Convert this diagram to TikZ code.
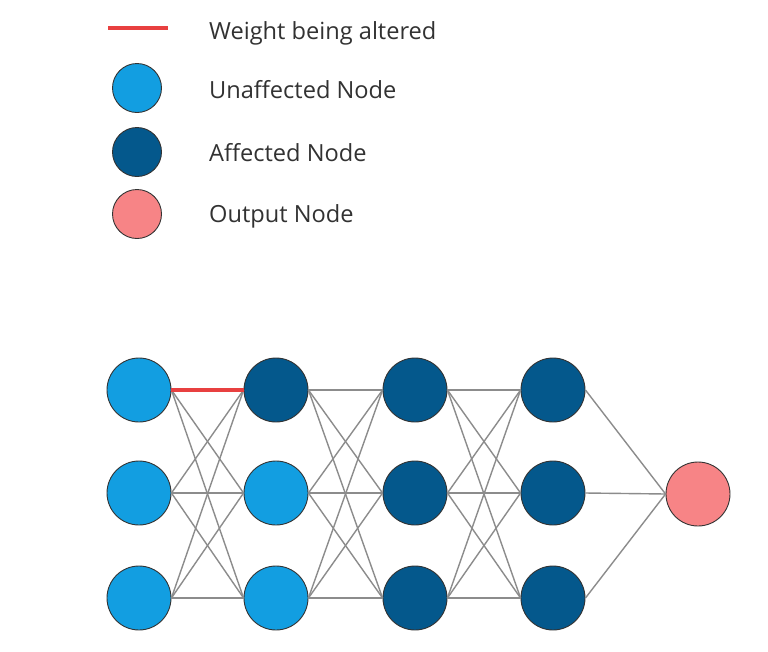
\documentclass[tikz,border=0pt]{standalone}
\usepackage{fontspec}
\setmainfont{Open Sans}
\usepackage{xcolor}
\usetikzlibrary{positioning}
\definecolor{ink}{RGB}{50,50,50}
\definecolor{lightnode}{RGB}{18,158,225}
\definecolor{darknode}{RGB}{4,88,140}
\definecolor{outpink}{RGB}{247,132,134}
\definecolor{altred}{RGB}{232,64,64}
\definecolor{wgray}{RGB}{140,140,140}
\tikzset{
  unaff/.style={circle, draw=black!80, fill=lightnode, minimum size=64pt, inner sep=0pt, line width=0.9pt},
  aff/.style={circle, draw=black!80, fill=darknode, minimum size=64pt, inner sep=0pt, line width=0.9pt},
  outn/.style={circle, draw=black!80, fill=outpink, minimum size=64pt, inner sep=0pt, line width=0.9pt},
  legdot/.style={minimum size=49pt},
  legtext/.style={anchor=west, font=\fontsize{23.6}{27}\selectfont, text=ink, inner sep=0pt},
  weight/.style={line width=1.4pt, draw=wgray},
  altered/.style={line width=4.5pt, draw=altred},
}
\begin{document}
\begin{tikzpicture}[x=1pt, y=-1pt]
  \useasboundingbox[fill=white] (0,0) rectangle (768,651);
  % legend
  \coordinate (la) at (108,28);
  \coordinate (lb) at (168,28);
  \draw[altered, line width=3.5pt] (la) -- (lb);
  \node[legtext] (t1) at (209,33) {Weight being altered};
  \node[unaff, legdot] (l1) at (137,88) {};
  \node[legtext] (t2) at (209,90) {Unaffected Node};
  \node[aff, legdot] (l2) at (137,152) {};
  \node[legtext] (t3) at (209,153) {Affected Node};
  \node[outn, legdot] (l3) at (137,214) {};
  \node[legtext] (t4) at (209,216) {Output Node};
  % network
  \node[unaff] (a1) at (139,390) {};
  \node[unaff] (a2) at (139,493) {};
  \node[unaff] (a3) at (139,598) {};
  \node[aff]   (b1) at (276,390) {};
  \node[unaff] (b2) at (276,493) {};
  \node[unaff] (b3) at (276,598) {};
  \node[aff]   (c1) at (415,390) {};
  \node[aff]   (c2) at (415,493) {};
  \node[aff]   (c3) at (415,598) {};
  \node[aff]   (d1) at (553,390) {};
  \node[aff]   (d2) at (553,493) {};
  \node[aff]   (d3) at (553,598) {};
  \node[outn]  (out) at (698,494) {};
  % weights
  \foreach \i in {1,2,3} {
    \foreach \j in {1,2,3} {
      \draw[weight] (a\i.east) -- (b\j.west);
      \draw[weight] (b\i.east) -- (c\j.west);
      \draw[weight] (c\i.east) -- (d\j.west);
    }
    \draw[weight] (d\i.east) -- (out.west);
  }
  \draw[altered] (a1.east) -- (b1.west);
\end{tikzpicture}
\end{document}
